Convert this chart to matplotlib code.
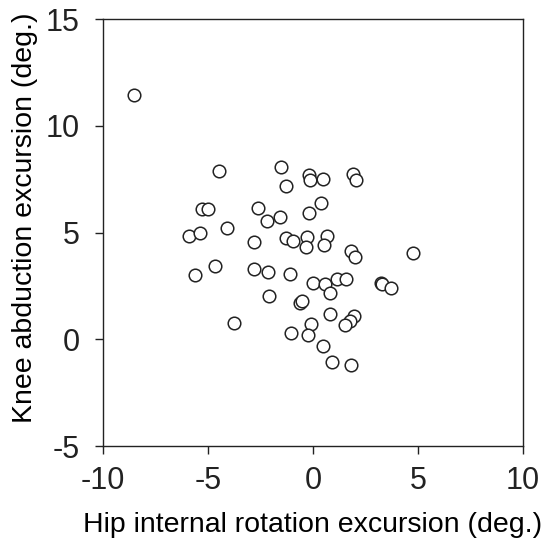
import matplotlib
matplotlib.use("Agg")
import matplotlib.pyplot as plt

hip_irot = [-8.50, -4.49, -1.50, -1.30, -0.17, -0.12, 0.47, 1.89, 2.06, 0.38,
            -0.20, -5.28, -5.00, -2.61, -1.57, -2.21, -4.08, -5.91, -5.36, -2.82,
            -1.29, -0.97, -0.28, -0.35, 0.65, 0.53, 1.79, 2.02, 4.78, -4.66,
            -5.63, -2.79, -2.16, -1.09, -0.02, 0.58, 1.15, 1.59, 0.82, 3.24,
            3.29, 3.71, -2.11, -0.62, -0.50, -3.76, 0.80, 1.97, 1.77, 1.54,
            -0.10, -1.05, -0.22, 0.47, 0.89, 1.82]
knee_abd = [11.44, 7.88, 8.09, 7.16, 7.70, 7.46, 7.52, 7.73, 7.47, 6.40,
            5.92, 6.08, 6.09, 6.14, 5.72, 5.54, 5.20, 4.83, 4.96, 4.57,
            4.73, 4.59, 4.78, 4.34, 4.86, 4.41, 4.15, 3.84, 4.02, 3.44,
            3.01, 3.31, 3.13, 3.06, 2.63, 2.59, 2.84, 2.82, 2.17, 2.63,
            2.59, 2.40, 2.03, 1.72, 1.80, 0.78, 1.18, 1.10, 0.84, 0.65,
            0.70, 0.29, 0.21, -0.29, -1.07, -1.20]

x_ticks = [-10, -5, 0, 5, 10]
y_ticks = [-5, 0, 5, 10, 15]

plt.rcParams['font.family'] = ['Liberation Sans', 'DejaVu Sans']

fig = plt.figure(figsize=(5.49, 5.44), dpi=100)
ax = fig.add_axes([0.1876, 0.180, 0.765, 0.785])
ax.scatter(hip_irot, knee_abd, s=82, facecolors='white', edgecolors='#222222',
           linewidths=1.1, zorder=3)
ax.set_xlim(-10, 10)
ax.set_ylim(-5, 15)
ax.set_xticks(x_ticks)
ax.set_yticks(y_ticks)
ax.set_xticklabels([str(v) for v in x_ticks])
ax.set_yticklabels([str(v) for v in y_ticks])
ax.tick_params(direction='out', length=6, width=1, labelsize=22,
               colors='#222222')
ax.tick_params(axis='x', pad=8)
ax.tick_params(axis='y', pad=11)
for sp in ax.spines.values():
    sp.set_linewidth(1)
    sp.set_color('#222222')
ax.set_xlabel('Hip internal rotation excursion (deg.)', fontsize=20.5, labelpad=12)
ax.set_ylabel('Knee abduction excursion (deg.)', fontsize=20.5)
ax.yaxis.set_label_coords(-0.155, 0.535)
fig.savefig('out.png', dpi=100)
